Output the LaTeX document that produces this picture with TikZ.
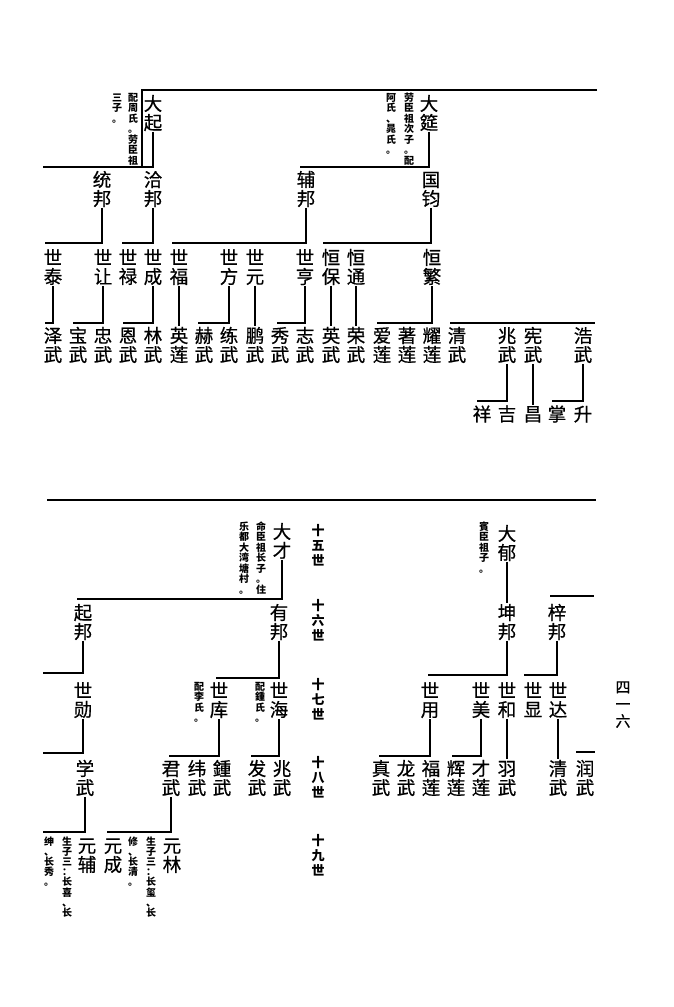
\documentclass[tikz,border=0pt]{standalone}
\usepackage{fontspec}
\setmainfont{Noto Sans CJK SC}
\newfontfamily\namefont{Noto Sans CJK SC}[FakeBold=0.6]
\makeatletter
\newcommand\vt[2][19pt]{\vbox{\baselineskip=#1\lineskiplimit=-100pt\lineskip=0pt\vt@loop#2\vt@end}}
\def\vt@end{\vt@end@}
\def\vt@loop#1{\ifx#1\vt@end\else\hbox to 1em{\hss\vrule height .88em depth .12em width 0pt\relax#1\hss}\expandafter\vt@loop\fi}
\makeatother
\tikzset{
  nm/.style={inner sep=0pt, font=\namefont\fontsize{18.5}{19}\selectfont},
  an/.style={inner sep=0pt, anchor=north, font=\bfseries\fontsize{10}{10.5}\selectfont},
  gen/.style={inner sep=0pt, font=\bfseries\fontsize{13}{15}\selectfont},
  pg/.style={inner sep=0pt, font=\namefont\fontsize{15}{17}\selectfont},
  ln/.style={line width=1.3pt},
}
\begin{document}
\begin{tikzpicture}[x=1pt,y=-1pt]
\fill[white] (0,0) rectangle (674,1007);
\path[use as bounding box] (0,0) rectangle (674,1007);

% ---------------- TOP SECTION ----------------
\coordinate (tTL) at (142,90);
\coordinate (tTR) at (597,90);
\coordinate (tBL) at (142,167);
\draw[ln] (tTR) -- (tTL) -- (tBL);

\node[nm] (daqi) at (153,113) {\vt{大起}};
\node[an] (a1a) at (133,92) {\vt[10.5pt]{配周氏。劳臣祖}};
\node[an] (a1b) at (117,92) {\vt[10.5pt]{三子。}};
\node[nm] (dayan) at (429,113) {\vt{大筵}};
\node[an] (a2a) at (409,92) {\vt[10.5pt]{劳臣祖次子。配}};
\node[an] (a2b) at (391,92) {\vt[10.5pt]{阿氏、晁氏。}};

\node[nm] (tongbang) at (102,189) {\vt{统邦}};
\node[nm] (qiabang) at (153,189) {\vt{洽邦}};
\node[nm] (fubang) at (306,189) {\vt{辅邦}};
\node[nm] (guojun) at (431,189) {\vt{国钧}};

\coordinate (h1) at (43,167);
\coordinate (h2) at (300,167);
\draw[ln] (daqi.south) |- (h1);
\draw[ln] (dayan.south) |- (h2);

% 17th generation (top)
\node[nm] (shitai) at (53,267) {\vt{世泰}};
\node[nm] (shirang) at (103,267) {\vt{世让}};
\node[nm] (shilu) at (128,267) {\vt{世禄}};
\node[nm] (shicheng) at (153,267) {\vt{世成}};
\node[nm] (shifu) at (179,267) {\vt{世福}};
\node[nm] (shifang) at (229,267) {\vt{世方}};
\node[nm] (shiyuan) at (255,267) {\vt{世元}};
\node[nm] (shiheng) at (305,267) {\vt{世亨}};
\node[nm] (hengbao) at (331,267) {\vt{恒保}};
\node[nm] (hengtong) at (356,267) {\vt{恒通}};
\node[nm] (hengfan) at (432,267) {\vt{恒繁}};

\coordinate (h3) at (45,243);
\coordinate (h4) at (122,243);
\coordinate (h5) at (172,243);
\coordinate (h6) at (323,243);
\draw[ln] (tongbang.south) |- (h3);
\draw[ln] (qiabang.south) |- (h4);
\draw[ln] (fubang.south) |- (h5);
\draw[ln] (guojun.south) |- (h6);

% 18th generation (top)
\node[nm] (zewu) at (53,345) {\vt{泽武}};
\node[nm] (baowu) at (78,345) {\vt{宝武}};
\node[nm] (zhongwu) at (103,345) {\vt{忠武}};
\node[nm] (enwu) at (128,345) {\vt{恩武}};
\node[nm] (linwu) at (153,345) {\vt{林武}};
\node[nm] (yinglian) at (179,345) {\vt{英莲}};
\node[nm] (hewu) at (204,345) {\vt{赫武}};
\node[nm] (lianwu) at (229,345) {\vt{练武}};
\node[nm] (pengwu) at (255,345) {\vt{鹏武}};
\node[nm] (xiuwu) at (280,345) {\vt{秀武}};
\node[nm] (zhiwu) at (305,345) {\vt{志武}};
\node[nm] (yingwu) at (331,345) {\vt{英武}};
\node[nm] (rongwu) at (356,345) {\vt{荣武}};
\node[nm] (ailian) at (382,345) {\vt{爱莲}};
\node[nm] (zhulian) at (407,345) {\vt{著莲}};
\node[nm] (yaolian) at (432,345) {\vt{耀莲}};
\node[nm] (tqingwu) at (457,345) {\vt{清武}};
\node[nm] (tzhaowu) at (507,345) {\vt{兆武}};
\node[nm] (xianwu) at (533,345) {\vt{宪武}};
\node[nm] (haowu) at (583,345) {\vt{浩武}};

\coordinate (h7) at (45,323);
\coordinate (h8) at (73,323);
\coordinate (h9) at (123,323);
\coordinate (h10) at (198,323);
\coordinate (h11) at (277,323);
\coordinate (h12) at (377,323);
\coordinate (h13a) at (450,323);
\coordinate (h13b) at (595,323);
\draw[ln] (shitai.south) |- (h7);
\draw[ln] (shirang.south) |- (h8);
\draw[ln] (shicheng.south) |- (h9);
\draw[ln] (shifu.south) -- (yinglian.north);
\draw[ln] (shifang.south) |- (h10);
\draw[ln] (shiyuan.south) -- (pengwu.north);
\draw[ln] (shiheng.south) |- (h11);
\draw[ln] (hengbao.south) -- (yingwu.north);
\draw[ln] (hengtong.south) -- (rongwu.north);
\draw[ln] (hengfan.south) |- (h12);
\draw[ln] (h13a) -- (h13b);

% 19th generation (top)
\node[nm] (xiang) at (482,414) {\vt{祥}};
\node[nm] (ji) at (507,414) {\vt{吉}};
\node[nm] (chang) at (533,414) {\vt{昌}};
\node[nm] (zhang) at (557,414) {\vt{掌}};
\node[nm] (sheng) at (583,414) {\vt{升}};
\coordinate (h14) at (477,401);
\coordinate (h15) at (552,401);
\draw[ln] (tzhaowu.south) |- (h14);
\draw[ln] (xianwu.south) -- (chang.north);
\draw[ln] (haowu.south) |- (h15);

% ---------------- SEPARATOR ----------------
\coordinate (sepL) at (47,500);
\coordinate (sepR) at (596,500);
\draw[line width=2.4pt] (sepL) -- (sepR);

% generation labels
\node[gen] (g15) at (318,546) {\vt[15pt]{十五世}};
\node[gen] (g16) at (318,621) {\vt[15pt]{十六世}};
\node[gen] (g17) at (318,700) {\vt[15pt]{十七世}};
\node[gen] (g18) at (318,778) {\vt[15pt]{十八世}};
\node[gen] (g19) at (318,856) {\vt[15pt]{十九世}};

% ---------------- BOTTOM LEFT ----------------
\node[nm] (dacai) at (282,541) {\vt{大才}};
\node[an] (a3a) at (261,521) {\vt[10.5pt]{命臣祖长子。住}};
\node[an] (a3b) at (244,521) {\vt[10.5pt]{乐都大湾塘村。}};
\coordinate (h16) at (77,599);
\draw[ln] (dacai.south) |- (h16);

\node[nm] (qibang) at (83,622) {\vt{起邦}};
\node[nm] (youbang) at (279,622) {\vt{有邦}};
\coordinate (h17) at (43,673);
\coordinate (h18) at (216,678);
\draw[ln] (qibang.south) |- (h17);
\draw[ln] (youbang.south) |- (h18);

\node[nm] (shixun) at (83,700) {\vt{世勋}};
\node[nm] (shiku) at (219,700) {\vt{世库}};
\node[an] (a4) at (199,681) {\vt[10.5pt]{配李氏。}};
\node[nm] (shihai) at (279,700) {\vt{世海}};
\node[an] (a5) at (260,681) {\vt[10.5pt]{配鍾氏。}};
\coordinate (h19) at (43,753);
\coordinate (h20) at (169,756);
\coordinate (h21) at (251,756);
\draw[ln] (shixun.south) |- (h19);
\draw[ln] (shiku.south) |- (h20);
\draw[ln] (shihai.south) |- (h21);

\node[nm] (xuewu) at (85,778) {\vt{学武}};
\node[nm] (junwu) at (171,778) {\vt{君武}};
\node[nm] (weiwu) at (197,778) {\vt{纬武}};
\node[nm] (zhongwu2) at (222,778) {\vt{鍾武}};
\node[nm] (fawu) at (257,778) {\vt{发武}};
\node[nm] (bzhaowu) at (282,778) {\vt{兆武}};
\coordinate (h22) at (43,832);
\coordinate (h23) at (107,832);
\draw[ln] (xuewu.south) |- (h22);
\draw[ln] (junwu.south) |- (h23);

\node[nm] (yuanfu) at (87,855) {\vt{元辅}};
\node[nm] (yuancheng) at (113,855) {\vt{元成}};
\node[nm] (yuanlin) at (172,855) {\vt{元林}};
\node[an] (a6a) at (67,836) {\vt[10.2pt]{生子三：长喜、长}};
\node[an] (a6b) at (49,836) {\vt[10.2pt]{绅、长秀。}};
\node[an] (a7a) at (151,836) {\vt[10.2pt]{生子三：长玺、长}};
\node[an] (a7b) at (133,836) {\vt[10.2pt]{修、长清。}};

% ---------------- BOTTOM RIGHT ----------------
\node[nm] (dayu) at (507,543) {\vt{大郁}};
\node[an] (a8) at (484,521) {\vt[10.5pt]{賓臣祖子。}};
\node[nm] (kunbang) at (507,622) {\vt{坤邦}};
\node[nm] (zibang) at (557,622) {\vt{梓邦}};
\draw[ln] (dayu.south) -- (kunbang.north);
\coordinate (h24a) at (550,596);
\coordinate (h24b) at (594,596);
\draw[ln] (h24a) -- (h24b);
\coordinate (h25) at (428,675);
\coordinate (h26) at (524,675);
\draw[ln] (kunbang.south) |- (h25);
\draw[ln] (zibang.south) |- (h26);

\node[nm] (shiyong) at (430,700) {\vt{世用}};
\node[nm] (shimei) at (481,700) {\vt{世美}};
\node[nm] (shihe) at (507,700) {\vt{世和}};
\node[nm] (shixian) at (533,700) {\vt{世显}};
\node[nm] (shida) at (558,700) {\vt{世达}};

\node[nm] (zhenwu) at (381,778) {\vt{真武}};
\node[nm] (longwu) at (406,778) {\vt{龙武}};
\node[nm] (fulian) at (431,778) {\vt{福莲}};
\node[nm] (huilian) at (456,778) {\vt{辉莲}};
\node[nm] (cailian) at (481,778) {\vt{才莲}};
\node[nm] (yuwu) at (507,778) {\vt{羽武}};
\node[nm] (bqingwu) at (558,778) {\vt{清武}};
\node[nm] (runwu) at (585,778) {\vt{润武}};
\coordinate (h27) at (379,756);
\coordinate (h28) at (452,756);
\draw[ln] (shiyong.south) |- (h27);
\draw[ln] (shimei.south) |- (h28);
\draw[ln] (shihe.south) -- (yuwu.north);
\draw[ln] (shida.south) -- (bqingwu.north);
\coordinate (h29a) at (576,752);
\coordinate (h29b) at (595,752);
\draw[ln] (h29a) -- (h29b);

% page number
\node[pg] (pagenum) at (623,704) {\vt[17pt]{四一六}};
\end{tikzpicture}
\end{document}
